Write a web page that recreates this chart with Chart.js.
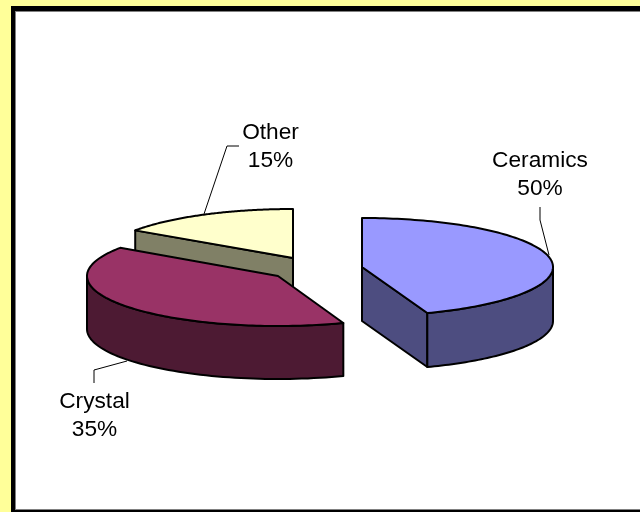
<!DOCTYPE html>
<html>
<head>
<meta charset="utf-8">
<style>html,body{margin:0;padding:0;background:#FFFF99;overflow:hidden}canvas{display:block}</style>
<script src="https://cdn.jsdelivr.net/npm/chart.js@4/dist/chart.umd.min.js"></script>
</head>
<body>
<canvas id="c" width="640" height="512"></canvas>
<script>
const categories = ['Ceramics', 'Crystal', 'Other'];
const shares = [50, 35, 15];
const topColors = ['#9999FF', '#993366', '#FFFFCC'];
const sideColors = ['#4D4D80', '#4D1A33', '#808066'];

// look of the 3D pie: where each exploded slice sits, and the camera's angle warp
const hubs = [[362, 267], [278, 276], [293, 258]];
const radiusX = 191, radiusY = [49, 50, 49], depths = [54, 53, 54];
const warpIn = [0, 180, 306, 360], warpOut = [0, 160, 304.3, 360];
const labelSpots = [[540, 161], [94.5, 402], [270.5, 133]];
const leaders = [
  [[540, 207], [540, 220], [549, 255]],
  [[94, 383], [94, 370], [127, 361]],
  [[239, 146], [227, 146], [204, 214]]
];

function warp(deg) {
  for (let i = 1; i < warpIn.length; i++) {
    if (deg <= warpIn[i] + 1e-6) {
      const t = (deg - warpIn[i - 1]) / (warpIn[i] - warpIn[i - 1]);
      return warpOut[i - 1] + t * (warpOut[i] - warpOut[i - 1]);
    }
  }
  return deg;
}
function rimPoint(i, deg, drop) {
  const r = deg * Math.PI / 180;
  return [hubs[i][0] + radiusX * Math.sin(r), hubs[i][1] - radiusY[i] * Math.cos(r) + (drop || 0)];
}
function rimRun(i, a, b, drop, steps) {
  const pts = [];
  for (let k = 0; k <= steps; k++) pts.push(rimPoint(i, a + (b - a) * k / steps, drop));
  return pts;
}
function shape(ctx, pts, fill) {
  ctx.beginPath();
  pts.forEach((p, k) => k ? ctx.lineTo(p[0], p[1]) : ctx.moveTo(p[0], p[1]));
  ctx.closePath();
  ctx.fillStyle = fill;
  ctx.fill();
  ctx.stroke();
}

const frame = {
  id: 'frame',
  beforeDraw(chart) {
    const ctx = chart.ctx;
    ctx.save();
    ctx.fillStyle = '#FFFF99'; ctx.fillRect(0, 0, 640, 512);
    ctx.fillStyle = '#000000'; ctx.fillRect(11, 6, 629, 506);
    ctx.fillStyle = '#808080'; ctx.fillRect(15, 11, 625, 499);
    ctx.fillStyle = '#FFFFFF'; ctx.fillRect(16, 12, 624, 497);
    ctx.restore();
  }
};

const pie3d = {
  id: 'pie3d',
  beforeDatasetDraw(chart) {
    const ctx = chart.ctx;
    const arcs = chart.getDatasetMeta(0).data;
    const ranges = arcs.map(a => [warp((a.startAngle + Math.PI / 2) * 180 / Math.PI),
                                  warp((a.endAngle + Math.PI / 2) * 180 / Math.PI)]);
    ctx.save();
    ctx.strokeStyle = '#000000';
    ctx.lineWidth = 2;
    ctx.lineJoin = 'round';
    [2, 1, 0].forEach(i => {
      const [a, b] = ranges[i];
      const hub = hubs[i];
      const depth = depths[i];
      // walls facing the viewer
      const outerA = Math.max(a, 90), outerB = Math.min(b, 270);
      if (i === 2 || i === 0) {
        // cut face seen on the left of the slice
        const edge = i === 0 ? rimPoint(i, b) : rimPoint(i, a);
        shape(ctx, [hub, edge, [edge[0], edge[1] + depth], [hub[0], hub[1] + depth]], sideColors[i]);
      }
      if (outerB > outerA) {
        shape(ctx, rimRun(i, outerA, outerB, 0, 60).concat(rimRun(i, outerB, outerA, depth, 60)), sideColors[i]);
      }
      shape(ctx, [hub].concat(rimRun(i, a, b, 0, 120)), topColors[i]);
    });
    // leader lines
    ctx.lineWidth = 1;
    ctx.strokeStyle = '#000000';
    leaders.forEach(l => {
      ctx.beginPath();
      l.forEach((p, k) => k ? ctx.lineTo(p[0], p[1]) : ctx.moveTo(p[0], p[1]));
      ctx.stroke();
    });
    // labels
    ctx.fillStyle = '#000000';
    ctx.font = '22.7px "Liberation Sans", Arial, sans-serif';
    ctx.textAlign = 'center';
    ctx.textBaseline = 'middle';
    categories.forEach((name, i) => {
      ctx.fillText(name, labelSpots[i][0], labelSpots[i][1]);
      ctx.fillText(shares[i] + '%', labelSpots[i][0], labelSpots[i][1] + 28);
    });
    ctx.restore();
    return false;
  }
};

new Chart(document.getElementById('c'), {
  type: 'pie',
  data: { labels: categories, datasets: [{ data: shares, backgroundColor: topColors, borderColor: '#000000' }] },
  options: {
    responsive: false,
    animation: false,
    events: [],
    plugins: { legend: { display: false }, tooltip: { enabled: false } }
  },
  plugins: [frame, pie3d]
});
</script>
</body>
</html>
